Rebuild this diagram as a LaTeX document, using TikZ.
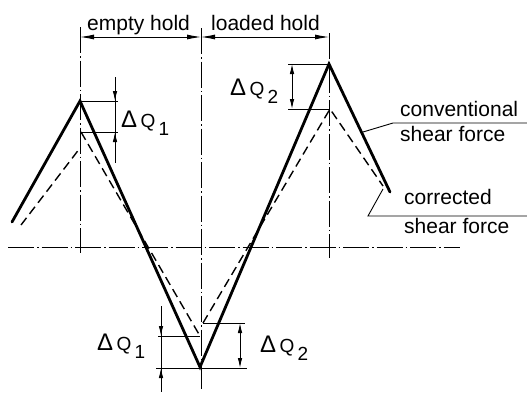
\documentclass[tikz,border=0pt]{standalone}
\usepackage{fontspec}
\setmainfont{Liberation Sans}
\usetikzlibrary{arrows.meta}
\tikzset{
  conv/.style={line width=2.8pt, line cap=round},
  corr/.style={line width=1.4pt, dash pattern=on 9pt off 5pt},
  centre/.style={line width=0.9pt, dash pattern=on 26pt off 3pt on 1.5pt off 3pt},
  dimline/.style={line width=0.9pt},
  dimarrow/.style={line width=0.9pt, >={Latex[length=10pt,width=4.5pt]}},
  lbl/.style={anchor=base west, inner sep=0pt},
}
\newcommand{\dQ}[1]{{\fontsize{24}{24}\selectfont Δ}\,{\fontsize{19}{20}\selectfont Q\,\raisebox{-8pt}{#1}}}
\begin{document}
\begin{tikzpicture}[x=1pt, y=-1pt, >={Latex[length=14pt,width=5pt]}, font=\fontsize{21}{22}\selectfont]
\useasboundingbox (0,0) rectangle (527,394);
% axis and hold boundaries
\coordinate (ax1) at (8,247);
\coordinate (ax2) at (460,247);
\draw[centre] (ax1) -- (ax2);
\draw[centre] (80,27) -- (80,253);
\draw[centre] (201,28) -- (201,390);
\draw[centre] (329,33) -- (329,258);
% hold lengths
\draw[dimline,<->] (80,37) -- (201,37);
\draw[dimline,<->] (201,37) -- (329,37);
\node[lbl] (empty) at (87,30) {empty hold};
\node[lbl] (loaded) at (211,30) {loaded hold};
% conventional shear force
\coordinate (c0) at (12,222);
\coordinate (c1) at (80,101);
\coordinate (c2) at (200,367);
\coordinate (c3) at (329,64);
\coordinate (c4) at (390,192);
\draw[conv] (c0) -- (c1) -- (c2) -- (c3) -- (c4);
% corrected shear force
\coordinate (k0) at (21,225);
\coordinate (k1) at (80,148);
\coordinate (k2) at (81,132);
\coordinate (k3) at (200,336);
\coordinate (k4) at (203,323);
\coordinate (k5) at (330,109);
\coordinate (k6) at (383,186);
\draw[corr] (k0) -- (k1);
\draw[corr] (k2) -- (k3);
\draw[corr] (k4) -- (k5) -- (k6);
% delta Q top left
\draw[dimline] (c1) -- (118,101);
\draw[dimline] (k2) -- (118,132);
\draw[dimline] (115,77) -- (115,163);
\draw[dimarrow,->] (115,78) -- (115,101);
\draw[dimarrow,->] (115,155) -- (115,132);
\node[lbl] (dq1t) at (121,127) {\dQ{1}};
% delta Q top right
\draw[dimline] (288,64) -- (c3);
\draw[dimline] (288,109) -- (k5);
\draw[dimarrow,<->] (292,64) -- (292,109);
\node[lbl] (dq2t) at (230,95) {\dQ{2}};
% delta Q bottom left
\draw[dimline] (158,336) -- (k3);
\draw[dimline] (156,368) -- (247,368);
\draw[dimline] (161,306) -- (161,392);
\draw[dimarrow,->] (161,310) -- (161,336);
\draw[dimarrow,->] (161,391) -- (161,368);
\node[lbl] (dq1b) at (97,350) {\dQ{1}};
% delta Q bottom right
\draw[dimline] (k4) -- (245,323);
\draw[dimarrow,<->] (240,323) -- (240,368);
\node[lbl] (dq2b) at (260,352) {\dQ{2}};
% legend
\coordinate (lc1) at (363,132);
\coordinate (lc2) at (393,123);
\coordinate (lc3) at (527,123);
\draw[dimline] (lc1) -- (lc2) -- (lc3);
\node[lbl] (conv1) at (400,116) {conventional};
\node[lbl] (conv2) at (400,141) {shear force};
\coordinate (lk1) at (383,189);
\coordinate (lk2) at (368,216);
\coordinate (lk3) at (527,216);
\draw[dimline] (lk1) -- (lk2) -- (lk3);
\node[lbl] (corr1) at (404,204) {corrected};
\node[lbl] (corr2) at (404,233) {shear force};
\end{tikzpicture}
\end{document}
